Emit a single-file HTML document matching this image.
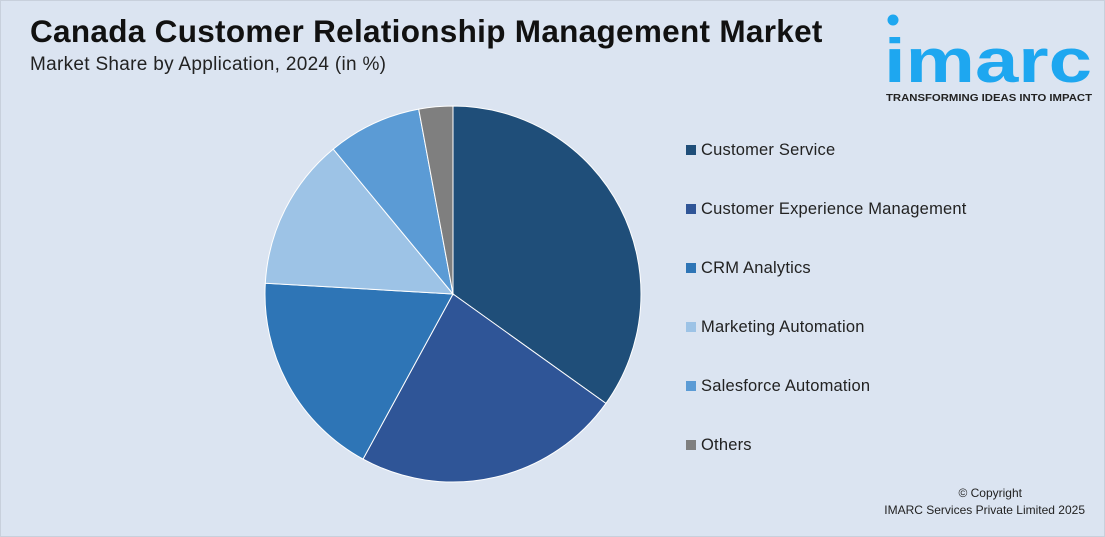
<!DOCTYPE html>
<html><head><meta charset="utf-8"><style>
body{margin:0;width:1105px;height:537px;overflow:hidden;font-family:"Liberation Sans",sans-serif}
.bg{position:absolute;left:0;top:0;width:1105px;height:537px;background:#dbe4f1;border:1px solid #c8d0dc;box-sizing:border-box}
.t{position:absolute;left:30px;top:13px;font-size:31.5px;letter-spacing:0.3px;font-weight:bold;color:#111}
.s{position:absolute;left:30px;top:54px;font-size:19px;letter-spacing:0.3px;color:#222}
.lg{position:absolute;left:686px;font-size:16.5px;letter-spacing:0.2px;color:#222}
.lg i{display:inline-block;width:10px;height:10px;margin-right:5px;vertical-align:0px}
.c{position:absolute;right:20px;font-size:12px;color:#222;text-align:right}
</style></head><body><div class="bg"></div>
<div class="t">Canada Customer Relationship Management Market</div>
<div class="s">Market Share by Application, 2024 (in %)</div>
<svg style="position:absolute;left:0;top:0" width="1105" height="537">
<g stroke="#fff" stroke-width="1">
<path d="M453,294 L453,106 A188,188 0 0 1 605.9,403.4 Z" fill="#1f4e79"/>
<path d="M453,294 L605.9,403.4 A188,188 0 0 1 363,459.1 Z" fill="#2f5597"/>
<path d="M453,294 L363,459.1 A188,188 0 0 1 265.3,283.2 Z" fill="#2e75b6"/>
<path d="M453,294 L265.3,283.2 A188,188 0 0 1 333.2,149.1 Z" fill="#9dc3e6"/>
<path d="M453,294 L333.2,149.1 A188,188 0 0 1 418.7,109.1 Z" fill="#5b9bd5"/>
<path d="M453,294 L418.7,109.1 A188,188 0 0 1 453,106 Z" fill="#7f7f7f"/>
</g>
<circle cx="893" cy="20" r="5.5" fill="#1ea7f0"/>
<text x="884" y="82" font-family="Liberation Sans,sans-serif" font-size="62" font-weight="bold" fill="#1ea7f0" textLength="208" lengthAdjust="spacingAndGlyphs">imarc</text>
<text x="886" y="101" font-family="Liberation Sans,sans-serif" font-size="10.5" font-weight="bold" fill="#222" textLength="206" lengthAdjust="spacingAndGlyphs">TRANSFORMING IDEAS INTO IMPACT</text>
</svg>
<div class="lg" style="top:141px"><i style="background:#1f4e79"></i>Customer Service</div>
<div class="lg" style="top:200px"><i style="background:#2f5597"></i>Customer Experience Management</div>
<div class="lg" style="top:259px"><i style="background:#2e75b6"></i>CRM Analytics</div>
<div class="lg" style="top:318px"><i style="background:#9dc3e6"></i>Marketing Automation</div>
<div class="lg" style="top:377px"><i style="background:#5b9bd5"></i>Salesforce Automation</div>
<div class="lg" style="top:436px"><i style="background:#7f7f7f"></i>Others</div>
<div class="c" style="top:486px;right:83px">© Copyright</div>
<div class="c" style="top:503px">IMARC Services Private Limited 2025</div>
</body></html>
